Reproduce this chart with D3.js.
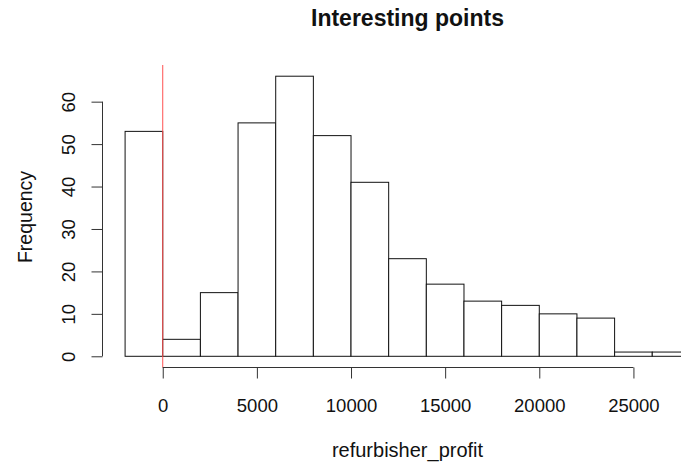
<!DOCTYPE html>
<html>
<head>
<meta charset="utf-8">
<script src="https://cdn.jsdelivr.net/npm/d3@7"></script>
<style>
  html, body { margin: 0; padding: 0; background: #fff; }
  svg { display: block; font-family: "Liberation Sans", Arial, Helvetica, sans-serif; }
</style>
</head>
<body>
<svg id="chart" width="681" height="466"></svg>
<script>
// Histogram of refurbisher_profit, bins of width 2000
const binStarts = [-2000, 0, 2000, 4000, 6000, 8000, 10000, 12000, 14000, 16000, 18000, 20000, 22000, 24000, 26000];
const binWidth = 2000;
const counts = [53, 4, 15, 55, 66, 52, 41, 23, 17, 13, 12, 10, 9, 1, 1];
const xTicks = [0, 5000, 10000, 15000, 20000, 25000];
const yTicks = [0, 10, 20, 30, 40, 50, 60];
const markerValue = 0;

const title = "Interesting points";
const xTitle = "refurbisher_profit";
const yTitle = "Frequency";

const svg = d3.select("#chart");

// Plot region extends 4% beyond the data range on each side
const xMin = binStarts[0], xMax = binStarts[binStarts.length - 1] + binWidth;
const xPad = (xMax - xMin) * 0.04;
const yMax = d3.max(counts), yPad = yMax * 0.04;

const x = d3.scaleLinear().domain([xMin - xPad, xMax + xPad]).range([102.5, 712.5]);
const y = d3.scaleLinear().domain([-yPad, yMax + yPad]).range([367.5, 65]);

// Bars
svg.append("g")
  .selectAll("rect")
  .data(counts)
  .join("rect")
  .attr("x", (d, i) => x(binStarts[i]))
  .attr("width", x(binWidth) - x(0))
  .attr("y", d => y(d))
  .attr("height", d => y(0) - y(d))
  .attr("fill", "#fff")
  .attr("stroke", "#111")
  .attr("stroke-width", 1);

// Vertical reference line at zero
svg.append("line")
  .attr("x1", x(markerValue)).attr("x2", x(markerValue))
  .attr("y1", y.range()[1]).attr("y2", y.range()[0])
  .attr("stroke", "#ff5050")
  .attr("stroke-width", 1);

// X axis
const xAxis = svg.append("g")
  .attr("transform", `translate(0,${y.range()[0]})`)
  .call(d3.axisBottom(x).tickValues(xTicks).tickFormat(d3.format("d"))
    .tickSize(11).tickPadding(20).tickSizeOuter(0));

// Y axis
const yAxis = svg.append("g")
  .attr("transform", `translate(${x.range()[0]},0)`)
  .call(d3.axisLeft(y).tickValues(yTicks).tickFormat(d3.format("d"))
    .tickSize(11).tickSizeOuter(0));

// Trim axis lines to span the tick range only
xAxis.select(".domain").attr("d", `M${x(xTicks[0])},0H${x(xTicks[xTicks.length - 1])}`);
yAxis.select(".domain").attr("d", `M0,${y(yTicks[0])}V${y(yTicks[yTicks.length - 1])}`);

[xAxis, yAxis].forEach(g => {
  g.selectAll(".domain, .tick line").attr("stroke", "#333").attr("stroke-width", 1);
  g.selectAll("text").attr("fill", "#111").style("font-size", "18.5px")
    .style("font-family", "'Liberation Sans', Arial, sans-serif");
});

xAxis.selectAll(".tick text").attr("dy", null).attr("y", 44);

// Rotated y tick labels
yAxis.selectAll(".tick text")
  .attr("x", null).attr("dy", null)
  .attr("text-anchor", "middle")
  .attr("transform", "translate(-27.5,0) rotate(-90)");

// Title
svg.append("text")
  .attr("x", (x.range()[0] + x.range()[1]) / 2)
  .attr("y", 26)
  .attr("text-anchor", "middle")
  .style("font-size", "23px")
  .style("font-weight", "bold")
  .attr("fill", "#111")
  .text(title);

// Axis titles
svg.append("text")
  .attr("x", (x.range()[0] + x.range()[1]) / 2)
  .attr("y", 456.5)
  .attr("text-anchor", "middle")
  .style("font-size", "20px")
  .attr("fill", "#111")
  .text(xTitle);

svg.append("text")
  .attr("transform", `translate(31.5,${(y(yTicks[0]) + y(yTicks[yTicks.length - 1])) / 2 - 12}) rotate(-90)`)
  .attr("text-anchor", "middle")
  .style("font-size", "19.5px")
  .attr("fill", "#111")
  .text(yTitle);
</script>
</body>
</html>
